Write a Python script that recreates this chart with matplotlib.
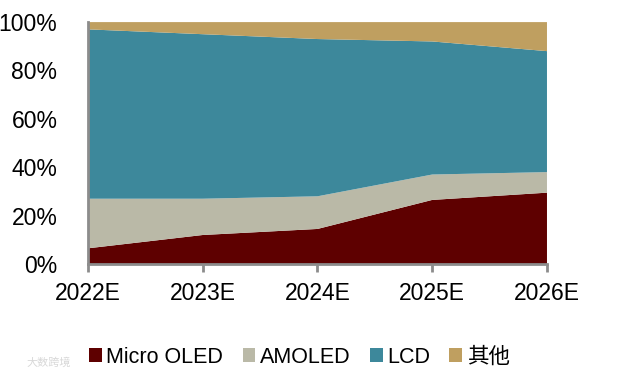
import matplotlib.pyplot as plt
from matplotlib.patches import Patch

plt.rcParams['font.family'] = ['Liberation Sans', 'Noto Sans CJK SC', 'DejaVu Sans']

years = ['2022E', '2023E', '2024E', '2025E', '2026E']
micro_oled = [6.5, 12, 14.5, 26.5, 29.5]
amoled = [20.5, 15, 13.5, 10.5, 8.5]
lcd = [70, 68, 65, 55, 50]
other = [3, 5, 7, 8, 12]

labels = ['Micro OLED', 'AMOLED', 'LCD', '其他']
colors = ['#5E0000', '#BAB9A7', '#3D889B', '#BF9F60']
axis_gray = '#8C8C8C'

fig = plt.figure(figsize=(6.21, 3.81), dpi=100)
ax = fig.add_axes([0.1417, 0.307, 0.7391, 0.635])

x = list(range(len(years)))
ax.stackplot(x, micro_oled, amoled, lcd, other, colors=colors, linewidth=0)

ax.set_xlim(0, len(years) - 1)
ax.set_ylim(0, 100)
ax.set_xticks(x)
ax.set_xticklabels(years, fontsize=16.5)
ax.set_yticks(range(0, 101, 20))
ax.set_yticklabels([f'{v}%' for v in range(0, 101, 20)], fontsize=16.5)

for side in ['top', 'right']:
    ax.spines[side].set_visible(False)
for side in ['left', 'bottom']:
    ax.spines[side].set_color(axis_gray)
    ax.spines[side].set_linewidth(2)

ax.tick_params(axis='x', direction='out', length=6, width=2, color=axis_gray, pad=7)
ax.tick_params(axis='y', length=0, pad=22)

handles = [Patch(facecolor=c, edgecolor='none') for c in colors]
fig.legend(handles, labels, loc='center', bbox_to_anchor=(0.482, 0.062), ncol=4,
           frameon=False, fontsize=15.5, handlelength=0.6, handleheight=0.6,
           handletextpad=0.2, columnspacing=0.9)

fig.text(0.043, 0.04, '大数跨境', fontsize=8, color='#D8D8D8')

fig.savefig('out.png', dpi=100)
